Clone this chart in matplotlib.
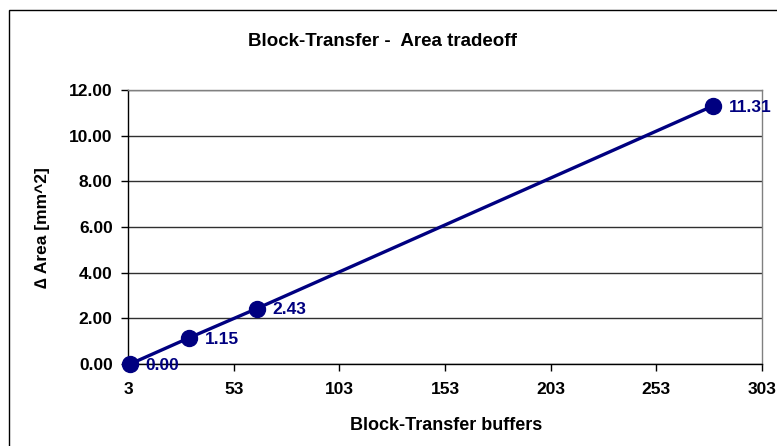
import matplotlib
matplotlib.use("Agg")
import matplotlib.pyplot as plt
from matplotlib.patches import Rectangle

buffers = [4, 32, 64, 280]
delta_area = [0.00, 1.15, 2.43, 11.31]
labels = ["0.00", "1.15", "2.43", "11.31"]
x_ticks = [3, 53, 103, 153, 203, 253, 303]
y_ticks = [0, 2, 4, 6, 8, 10, 12]

plt.rcParams['font.family'] = ['Liberation Sans', 'DejaVu Sans']
W, H = 777, 446
fig = plt.figure(figsize=(W/100, H/100), dpi=100)
fig.patch.set_facecolor('white')

# outer chart frame
fig.patches.append(Rectangle((9/W, -0.1), 1.2, 1 - 10/H + 0.1, transform=fig.transFigure,
                             fill=False, edgecolor='black', linewidth=1.0))

ax = fig.add_axes([128/W, 1 - 364/H, (762-128)/W, (364-90)/H])
navy = '#000080'
ax.plot(buffers, delta_area, color=navy, linewidth=2.4, marker='o', markersize=11.5,
        clip_on=False, zorder=5)
for xv, yv, lab in zip(buffers, delta_area, labels):
    ax.annotate(lab, (xv, yv), xytext=(11, -1), textcoords='offset points',
                ha='left', va='center', color=navy, fontsize=12.5, fontweight='bold',
                annotation_clip=False, zorder=6)

ax.set_xlim(3, 303)
ax.set_ylim(0, 12)
ax.set_xticks(x_ticks)
ax.set_xticklabels([str(v) for v in x_ticks], fontsize=12.5, fontweight='bold')
ax.set_yticks(y_ticks)
ax.set_yticklabels([f"{v:.2f}" for v in y_ticks], fontsize=12.5, fontweight='bold')
ax.tick_params(axis='both', direction='out', length=5, width=1, color='black', pad=8)
ax.tick_params(axis='y', pad=6)
ax.grid(axis='y', color='#303030', linewidth=1.0)
ax.set_axisbelow(True)
for side in ['top', 'right']:
    ax.spines[side].set_color('#808080')
    ax.spines[side].set_linewidth(1.0)
for side in ['left', 'bottom']:
    ax.spines[side].set_color('black')
    ax.spines[side].set_linewidth(1.0)

fig.text(383/W, 1 - 41/H, "Block-Transfer -  Area tradeoff", ha='center', va='center',
         fontsize=13.5, fontweight='bold')
fig.text(446/W, 1 - 426/H, "Block-Transfer buffers", ha='center', va='center',
         fontsize=13, fontweight='bold')
fig.text(42/W, 1 - 228/H, "\u2206 Area [mm^2]", ha='center', va='center', rotation=90,
         fontsize=12.5, fontweight='bold')

fig.savefig("out.png", dpi=100)
